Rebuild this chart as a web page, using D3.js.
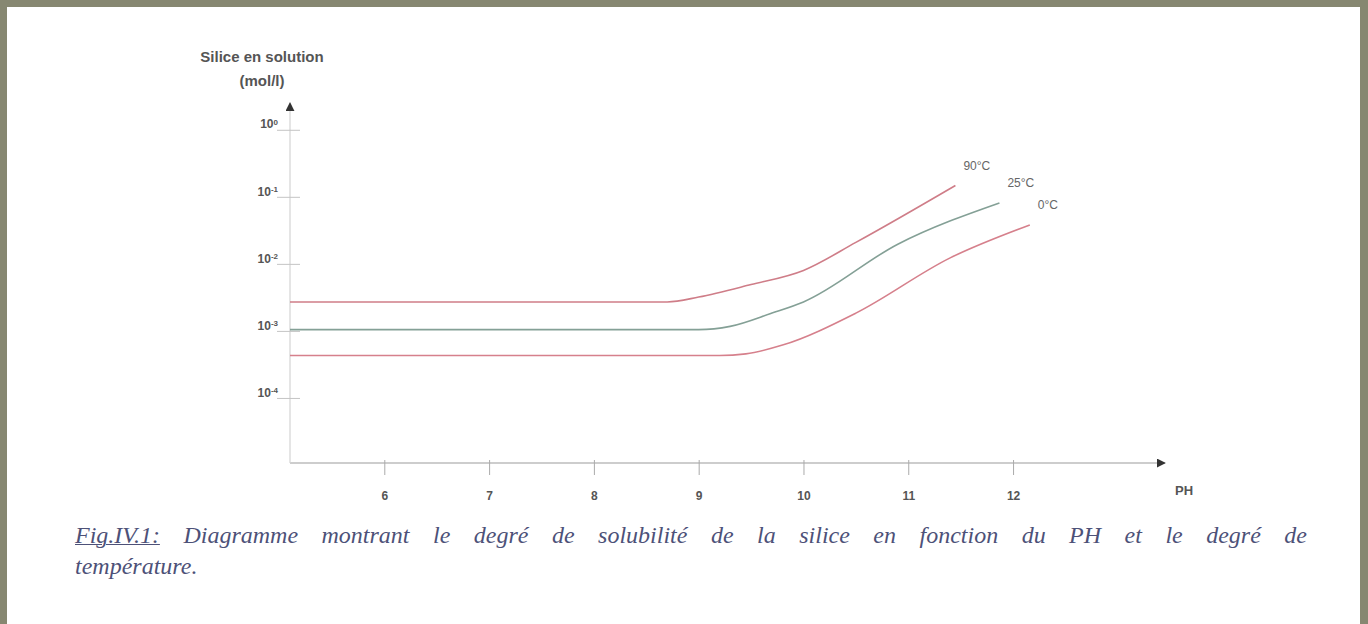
<!DOCTYPE html>
<html>
<head>
<meta charset="utf-8">
<script src="https://cdn.jsdelivr.net/npm/d3@7"></script>
<style>
  html, body { margin: 0; padding: 0; }
  body { width: 1368px; height: 624px; background: #868771; position: relative; overflow: hidden; }
  #page { position: absolute; left: 7px; top: 7px; width: 1353px; height: 617px; background: #fff; }
  svg { position: absolute; left: 0; top: 0; }
  .caption {
    position: absolute; left: 75px; width: 1232px;
    font-family: "Liberation Serif", "DejaVu Serif", serif; font-style: italic;
    font-size: 24px; line-height: 30px; color: #4d5178;
    white-space: nowrap;
  }
  #cap1 { top: 520px; text-align: justify; text-align-last: justify; white-space: normal; }
  #cap2 { top: 551px; }
  .caption u { text-decoration-thickness: 1px; }
</style>
</head>
<body>
<div id="page"></div>
<svg width="1368" height="624"></svg>
<div class="caption" id="cap1"><u>Fig.IV.1:</u> Diagramme montrant le degré de solubilité de la silice en fonction du PH et le degré de</div>
<div class="caption" id="cap2">température.</div>
<script>
// pH ticks and solubility ticks (mol/l)
let xTicks = [6, 7, 8, 9, 10, 11, 12]
let yTicks = [1, 1e-1, 1e-2, 1e-3, 1e-4]
let yTickExp = ["0", "-1", "-2", "-3", "-4"]

let temps = ["90°C", "25°C", "0°C"]
let pH = {
  "90°C": [5.1, 7.0, 8.7, 9.0, 9.5, 10.0, 10.5, 11.45],
  "25°C": [5.1, 7.0, 9.0, 9.3, 9.7, 10.0, 10.9, 11.87],
  "0°C":  [5.1, 7.0, 9.2, 9.45, 9.8, 10.5, 11.4, 12.16]
}
let silica = {
  "90°C": [2.2e-3, 2.2e-3, 2.2e-3, 2.6e-3, 4.0e-3, 6.5e-3, 1.7e-2, 1.2e-1],
  "25°C": [8.5e-4, 8.5e-4, 8.5e-4, 9.5e-4, 1.5e-3, 2.2e-3, 1.6e-2, 6.6e-2],
  "0°C":  [3.5e-4, 3.5e-4, 3.5e-4, 3.7e-4, 5.0e-4, 1.5e-3, 1.0e-2, 3.1e-2]
}
let colors = { "90°C": "#cf7d88", "25°C": "#84a096", "0°C": "#d6808c" }

let margin = { top: 103, left: 290 }
let width = 875
let height = 360
let font = 'Liberation Sans, Arial, sans-serif'

let svg = d3.select('svg')
let chart = svg.append('g')
    .attr('transform', 'translate(' + margin.left + ',' + margin.top + ')')

let x = d3.scaleLinear().domain([5.1, 13.45]).range([0, width])
let y = d3.scaleLog().domain([Math.pow(10, -5.06), Math.pow(10, 0.31)]).range([height, 0])

// arrow heads
svg.append('defs').append('marker')
    .attr('id', 'arrow')
    .attr('viewBox', '0 0 10 10')
    .attr('refX', 9).attr('refY', 5)
    .attr('markerWidth', 9).attr('markerHeight', 9)
    .attr('markerUnits', 'userSpaceOnUse')
    .attr('orient', 'auto')
    .append('path').attr('d', 'M0,0L10,5L0,10z').attr('fill', '#333')

chart.append('line')
    .attr('x1', 0).attr('y1', height).attr('x2', width).attr('y2', height)
    .attr('stroke', '#bdbdbd').attr('stroke-width', 1.5)
    .attr('marker-end', 'url(#arrow)')
chart.append('line')
    .attr('x1', 0).attr('y1', height).attr('x2', 0).attr('y2', 0)
    .attr('stroke', '#d4d4d4').attr('stroke-width', 1.2)
    .attr('marker-end', 'url(#arrow)')

let xAxis = chart.append('g').attr('class', 'axis x')
    .attr('transform', 'translate(0,' + height + ')')
    .call(d3.axisBottom(x).tickValues(xTicks).tickFormat(d3.format('d')).tickSize(12).tickPadding(16))
xAxis.select('.domain').remove()
xAxis.selectAll('line').attr('stroke', '#aaa').attr('y1', -3)
xAxis.selectAll('text').attr('fill', '#555')
    .style('font-family', font).style('font-size', '12px').style('font-weight', 'bold')

let yAxis = chart.append('g').attr('class', 'axis y')
    .call(d3.axisLeft(y).tickValues(yTicks).tickFormat('').tickSize(12))
yAxis.select('.domain').remove()
yAxis.selectAll('line').attr('stroke', '#c4c4c4').attr('x2', -13).attr('x1', 10)
    .attr('transform', 'translate(0,6)')
yAxis.selectAll('.tick').append('text')
    .attr('x', -12).attr('y', 0).attr('dy', '0.35em')
    .attr('text-anchor', 'end')
    .attr('fill', '#555')
    .style('font-family', font).style('font-size', '12px').style('font-weight', 'bold')
    .text('10')
    .append('tspan').attr('dy', '-0.4em').style('font-size', '8px')
    .text((d, i) => yTickExp[i])

// axis labels
chart.append('text')
    .attr('x', -28).attr('y', -41)
    .attr('text-anchor', 'middle').attr('fill', '#555')
    .style('font-family', font).style('font-size', '15px').style('font-weight', 'bold')
    .text('Silice en solution')
chart.append('text')
    .attr('x', -28).attr('y', -17)
    .attr('text-anchor', 'middle').attr('fill', '#555')
    .style('font-family', font).style('font-size', '15px').style('font-weight', 'bold')
    .text('(mol/l)')
chart.append('text')
    .attr('x', width + 10).attr('y', height + 32)
    .attr('fill', '#555')
    .style('font-family', font).style('font-size', '13px').style('font-weight', 'bold')
    .text('PH')

let line = d3.line()
    .x(d => x(d[0]))
    .y(d => y(d[1]))
    .curve(d3.curveMonotoneX)

temps.forEach(t => {
  let pts = pH[t].map((p, i) => [p, silica[t][i]])
  chart.append('path')
      .datum(pts)
      .attr('fill', 'none')
      .attr('stroke', colors[t])
      .attr('stroke-width', 1.6)
      .attr('d', line)
  let last = pts[pts.length - 1]
  chart.append('text')
      .attr('x', x(last[0]) + 8).attr('y', y(last[1]) - 16)
      .attr('fill', '#666')
      .style('font-family', font).style('font-size', '12px')
      .text(t)
})
</script>
</body>
</html>
